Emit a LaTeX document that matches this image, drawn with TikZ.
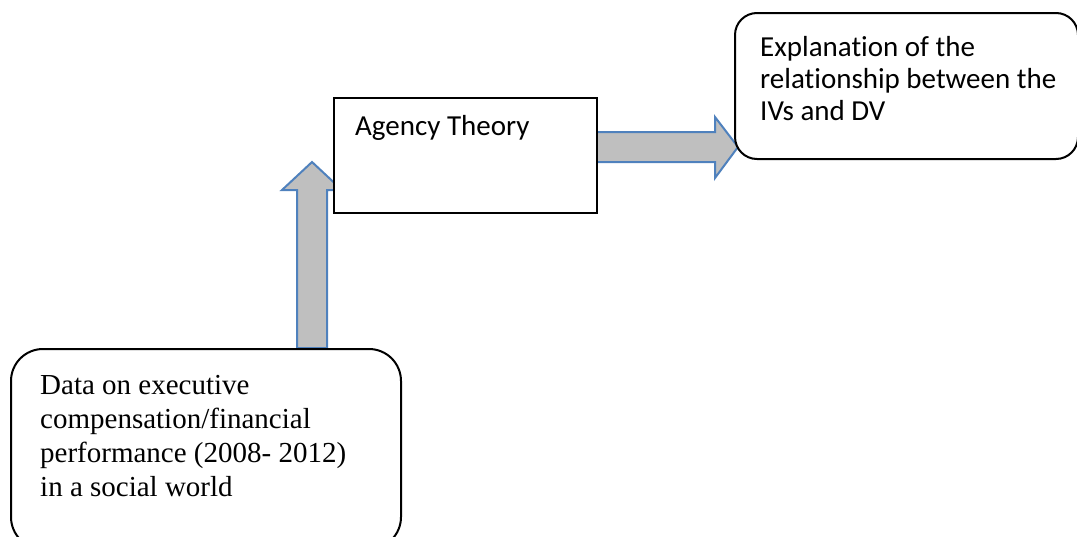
\documentclass[tikz,border=0pt]{standalone}
\usepackage{fontspec}
\newfontfamily\calfont[Ligatures=NoCommon]{Carlito}
\newfontfamily\tmsfont{Liberation Serif}
\begin{document}
\begin{tikzpicture}[x=1pt,y=-1pt,
  boxsq/.style={draw=black,line width=2pt,fill=white,rectangle,inner sep=0pt,anchor=north west},
  boxrd/.style={boxsq,rounded corners=#1},
  blockarrow/.style={draw=arrowblue,line width=2pt,fill=arrowgray,line join=miter},
  caltext/.style={font=\calfont\fontsize{29}{32}\selectfont,align=left,inner sep=0pt,anchor=base west},
  tmstext/.style={font=\tmsfont\fontsize{29}{33.7}\selectfont,align=left,inner sep=0pt,anchor=base west}]
\definecolor{arrowblue}{HTML}{4F81BD}
\definecolor{arrowgray}{HTML}{BFBFBF}
\useasboundingbox (0,0) rectangle (1077,536);
\clip (0,0) rectangle (1077,536);
% arrows
\draw[blockarrow] (297,348) -- (297,190) -- (282,190) -- (312,162) -- (342,190) -- (327,190) -- (327,348) -- cycle;
\draw[blockarrow] (596,132) -- (715,132) -- (715,117) -- (738,147) -- (715,178) -- (715,162) -- (596,162) -- cycle;
% boxes
\node[boxsq,minimum width=263pt,minimum height=115pt] (agency) at (333,97) {};
\node[boxrd=22pt,minimum width=343pt,minimum height=146pt] (expl) at (734,12) {};
\node[boxrd=32pt,minimum width=390pt,minimum height=200pt] (data) at (10,348) {};
% texts (multi-line nodes: base = last line)
\node[caltext] (agencytxt) at (355,135) {Agency Theory};
\node[caltext] (expltxt) at (760,120) {Explanation of the\\relationship between the\\IVs and DV};
\node[tmstext] (datatxt) at (40,496) {Data on executive\\compensation/financial\\performance (2008- 2012)\\in a social world};
\end{tikzpicture}
\end{document}
